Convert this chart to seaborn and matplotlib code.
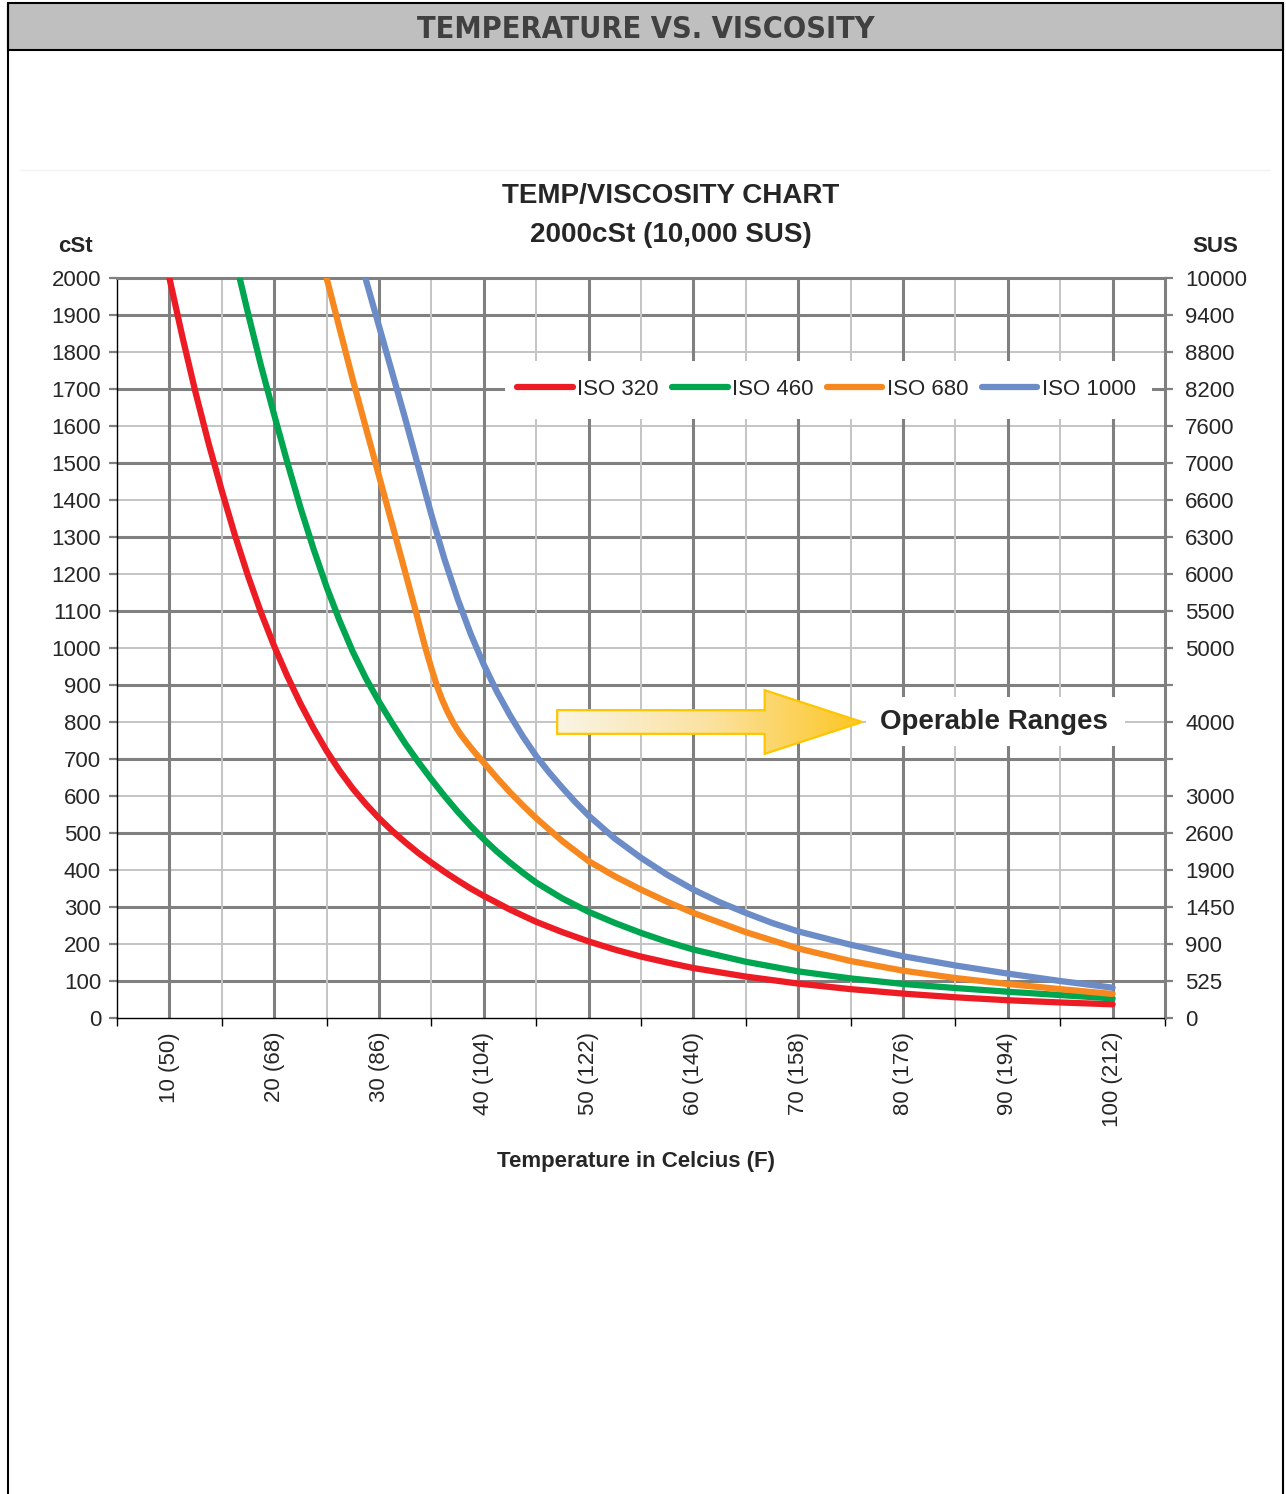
import numpy as np
import pandas as pd
import matplotlib
matplotlib.use("Agg")
import matplotlib.pyplot as plt
from matplotlib.patches import Polygon, Rectangle
from matplotlib.colors import LinearSegmentedColormap
from matplotlib.lines import Line2D
from matplotlib import font_manager
import seaborn as sns

# values (temperature in C, viscosity in cSt)
iso320_t = [10, 11.25, 12.5, 13.75, 15, 16.25, 17.5, 18.75, 20, 21.25, 22.5, 23.75, 25, 26.25,
            27.5, 28.75, 30, 31.25, 32.5, 33.75, 35, 36.25, 37.5, 38.75, 40, 42.5, 45, 47.5, 50,
            52.5, 55, 57.5, 60, 65, 70, 75, 80, 85, 90, 95, 100]
iso320_cst = [2000, 1840, 1690, 1552, 1425, 1305, 1195, 1095, 1005, 924, 850, 783, 722, 668,
              620, 578, 540, 506, 475, 446, 420, 395, 372, 350, 330, 293, 260, 232, 207,
              185, 166, 150, 135, 112, 93, 78, 66, 56, 48, 42, 37]

iso460_t = [16.7, 17.5, 18.75, 20, 21.25, 22.5, 23.75, 25, 26.25, 27.5, 28.75, 30, 31.25, 32.5,
            33.75, 35, 36.25, 37.5, 38.75, 40, 41.25, 42.5, 43.75, 45, 47.5, 50, 52.5, 55, 57.5,
            60, 65, 70, 75, 80, 85, 90, 95, 100]
iso460_cst = [2000, 1905, 1762, 1630, 1502, 1380, 1268, 1165, 1073, 990, 918, 855, 797, 742,
              692, 645, 600, 558, 519, 483, 450, 420, 392, 366, 323, 287, 257, 230, 206,
              185, 152, 126, 107, 92, 81, 71, 62, 53]

iso680_t = [25, 27.5, 30, 32.5, 33.5, 34.4, 35, 35.5, 36, 36.5, 37.1, 37.75, 38.5, 39.25, 40,
            41.25, 42.5, 43.75, 45, 47.5, 50, 52.5, 55, 57.5, 60, 65, 70, 75, 80, 85, 90, 95, 100]
iso680_cst = [2000, 1725, 1465, 1205, 1100, 1003, 945, 900, 862, 830, 797, 768, 740, 714, 690,
              649, 610, 574, 540, 478, 424, 383, 347, 314, 284, 232, 188, 154, 128, 108, 92, 78, 65]

iso1000_t = [28.7, 30, 31.25, 32.5, 33.75, 35, 36.25, 37.5, 38.75, 40, 41.25, 42.5, 43.75, 45,
             46.25, 47.5, 48.75, 50, 52.5, 55, 57.5, 60, 62.5, 65, 67.5, 70, 75, 80, 85, 90, 95, 100]
iso1000_cst = [2000, 1870, 1745, 1620, 1490, 1360, 1240, 1133, 1038, 955, 882, 818, 760, 708,
               663, 622, 583, 547, 485, 433, 387, 347, 313, 284, 257, 234, 198, 167, 142, 120, 100, 82]

grades = ["ISO 320", "ISO 460", "ISO 680", "ISO 1000"]
colors = ["#ed1c24", "#00a550", "#f7881f", "#6c8cc8"]

x_ticks = [10, 20, 30, 40, 50, 60, 70, 80, 90, 100]
x_labels = ["10 (50)", "20 (68)", "30 (86)", "40 (104)", "50 (122)", "60 (140)",
            "70 (158)", "80 (176)", "90 (194)", "100 (212)"]
cst_ticks = list(range(0, 2001, 100))
sus_labels = ["0", "525", "900", "1450", "1900", "2600", "3000", "", "4000", "", "5000",
              "5500", "6000", "6300", "6600", "7000", "7600", "8200", "8800", "9400", "10000"]

df = pd.concat([
    pd.DataFrame({"temp": iso320_t, "cst": iso320_cst, "grade": grades[0]}),
    pd.DataFrame({"temp": iso460_t, "cst": iso460_cst, "grade": grades[1]}),
    pd.DataFrame({"temp": iso680_t, "cst": iso680_cst, "grade": grades[2]}),
    pd.DataFrame({"temp": iso1000_t, "cst": iso1000_cst, "grade": grades[3]}),
], ignore_index=True)

sns.set_theme(style="white")
plt.rcParams["font.family"] = ["Liberation Sans", "DejaVu Sans"]

W, H = 1286, 1494
fig = plt.figure(figsize=(W / 100, H / 100), dpi=100)

def fx(px):
    return px / W

def fy(py):
    return 1 - py / H

# page frame and header band
fig.add_artist(Line2D([fx(8), fx(8)], [0, fy(3)], transform=fig.transFigure, color="black", lw=1.5))
fig.add_artist(Line2D([fx(1283), fx(1283)], [0, fy(3)], transform=fig.transFigure, color="black", lw=1.5))
fig.add_artist(Rectangle((fx(8), fy(50)), fx(1283) - fx(8), fy(3) - fy(50), transform=fig.transFigure,
                         facecolor="#bfbfbf", edgecolor="black", lw=1.5))
fig.add_artist(Line2D([fx(20), fx(1270)], [fy(170), fy(170)], transform=fig.transFigure,
                      color="#f3f3f3", lw=1))

# a condensed bold face for the header if one is installed
narrow = [f for f in font_manager.fontManager.ttflist
          if ("Narrow" in f.name or "Condensed" in f.name or f.stretch in ("condensed", "semi-condensed"))
          and f.weight in (700, "bold")]
if narrow:
    hp = font_manager.FontProperties(fname=narrow[0].fname, size=22)
    fig.text(fx(646), fy(29), "TEMPERATURE VS. VISCOSITY", ha="center", va="center",
             fontproperties=hp, color="#404040")
else:
    fig.text(fx(646), fy(29), "TEMPERATURE VS. VISCOSITY", ha="center", va="center",
             fontsize=22, fontweight="bold", color="#404040")

fig.text(fx(671), fy(196), "TEMP/VISCOSITY CHART", ha="center", va="center", fontsize=20, fontweight="bold")
fig.text(fx(671), fy(235), "2000cSt (10,000 SUS)", ha="center", va="center", fontsize=20, fontweight="bold")
fig.text(fx(75), fy(246), "cSt", ha="center", va="center", fontsize=16, fontweight="bold")
fig.text(fx(1215), fy(246), "SUS", ha="center", va="center", fontsize=16, fontweight="bold")
fig.text(fx(636), fy(1161), "Temperature in Celcius (F)", ha="center", va="center", fontsize=16, fontweight="bold")

ax = fig.add_axes([fx(117), fy(1018), fx(1165) - fx(117), fy(278) - fy(1018)])

dark, light = "#808080", "#c4c4c4"
for v in range(100, 2000, 100):
    if (v // 100) % 2 == 1:
        ax.axhline(v, color=dark, lw=2.2, zorder=1)
    else:
        ax.axhline(v, color=light, lw=1.4, zorder=1)
for t in range(10, 101, 10):
    ax.axvline(t, color=dark, lw=2.2, zorder=1)
for t in range(15, 100, 10):
    ax.axvline(t, color=light, lw=1.4, zorder=1)

sns.lineplot(data=df, x="temp", y="cst", hue="grade", palette=dict(zip(grades, colors)),
             estimator=None, sort=False, linewidth=4.5, ax=ax, legend=False, zorder=4)
for line in ax.get_lines()[-4:]:
    line.set_solid_joinstyle("round")

# legend with white patch behind it
ax.add_patch(Rectangle((0.370, 0.809), 0.618, 0.079, transform=ax.transAxes,
                       facecolor="white", edgecolor="none", zorder=3))
handles = [Line2D([0], [0], color=c, lw=4.5, solid_capstyle="round") for c in colors]
ax.legend(handles, grades, loc="center", bbox_to_anchor=(0.677, 0.849), ncol=4, frameon=False,
          fontsize=16, handlelength=2.5, handletextpad=0.2, columnspacing=0.6, borderaxespad=0)

# operable ranges arrow
arrow = Polygon([(47.0, 768), (66.8, 768), (66.8, 714), (76.1, 800), (66.8, 886), (66.8, 832),
                 (47.0, 832)], closed=True, facecolor="none", edgecolor="#fcc600", lw=1.6, zorder=6)
ax.add_patch(arrow)
cmap = LinearSegmentedColormap.from_list("arrow", ["#f9f4e4", "#fbe2a0", "#fdc624"])
im = ax.imshow(np.linspace(0, 1, 256).reshape(1, -1), cmap=cmap, extent=[47.0, 76.1, 714, 886],
               aspect="auto", zorder=5, interpolation="bicubic")
im.set_clip_path(arrow)
ax.add_patch(Rectangle((76.5, 736), 24.7, 132, facecolor="white", edgecolor="none", zorder=3))
ax.text(88.7, 800, "Operable Ranges", ha="center", va="center", fontsize=20, fontweight="bold", zorder=6)

ax.set_xlim(5, 105)
ax.set_ylim(0, 2000)
ax.set_xlabel("")
ax.set_ylabel("")
ax.set_xticks(x_ticks, x_labels, rotation=90, fontsize=16)
ax.set_xticks(range(5, 106, 10), minor=True)
ax.tick_params(axis="x", which="major", length=0, pad=10)
ax.tick_params(axis="x", which="minor", bottom=True, length=6, width=1, color="black", direction="out")
ax.set_yticks(cst_ticks, [str(v) for v in cst_ticks], fontsize=16)
ax.tick_params(axis="y", left=True, length=6, width=1.6, color=dark, pad=5.5)

for side in ["top", "right"]:
    ax.spines[side].set_color(dark)
    ax.spines[side].set_linewidth(2.2)
for side in ["left", "bottom"]:
    ax.spines[side].set_color("black")
    ax.spines[side].set_linewidth(1)

ax2 = ax.twinx()
ax2.set_ylim(0, 2000)
ax2.set_yticks(cst_ticks, sus_labels, fontsize=16)
ax2.tick_params(axis="y", right=True, length=6, width=1.6, color=dark, pad=8.5)
for side in ax2.spines:
    ax2.spines[side].set_visible(False)

fig.savefig("out.png", dpi=100)
